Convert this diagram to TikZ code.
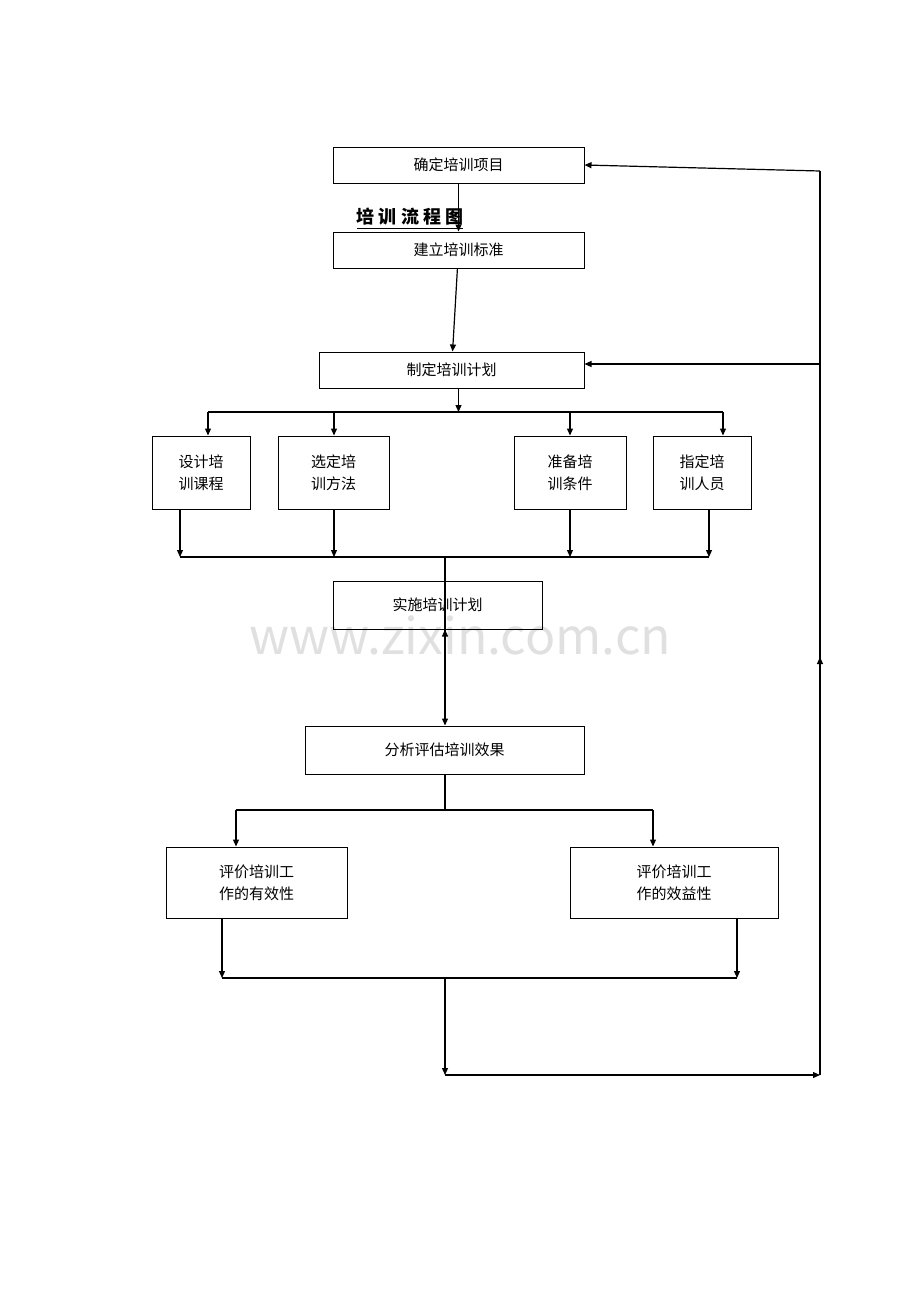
\documentclass[tikz,border=0pt]{standalone}
\usepackage{fontspec}
\setmainfont{Noto Sans CJK SC}
\usepackage{tikz}
\usetikzlibrary{arrows.meta,positioning,calc}
\tikzset{
  box/.style={draw, line width=0.5pt, inner sep=0pt, font=\fontsize{7.5}{11}\selectfont, align=center},
  link/.style={line width=0.6pt},
  arr/.style={link, -{Triangle[length=3.5pt,width=3pt]}}
}
\begin{document}
\begin{tikzpicture}[x=0.5pt,y=-0.5pt]
    \useasboundingbox (0,0) rectangle (920,1302);
    % watermark
    \node[text=black!12, font=\fontsize{25}{25}\selectfont] (wm) at (460,635) {www.zixin.com.cn};
    % top chain
    \node[box, minimum width=125.5pt, minimum height=18pt] (item) at (458.5,165) {确定培训项目};
    \node[box, minimum width=125.5pt, minimum height=18pt] (std) at (458.5,250) {建立培训标准};
    \node[box, minimum width=132.5pt, minimum height=18pt] (plan) at (451.5,370) {制定培训计划};
    \node[font=\bfseries\fontsize{9}{9}\selectfont] (title) at (410,219) {\underline{培\ 训\ 流\ 程\ 图}};
    \draw[arr] (item) -- (std);
    \draw[arr] (std) -- (plan);
    % four sub tasks
    \node[box, minimum width=49pt, minimum height=36.5pt] (d1) at (201,472.5) {设计培\\训课程};
    \node[box, minimum width=55.5pt, minimum height=36.5pt] (d2) at (333.5,472.5) {选定培\\训方法};
    \node[box, minimum width=56pt, minimum height=36.5pt] (d3) at (570,472.5) {准备培\\训条件};
    \node[box, minimum width=49pt, minimum height=36.5pt] (d4) at (702,472.5) {指定培\\训人员};
    \coordinate (split) at (458.5,412);
    \draw[arr] (plan.south -| split) -- (split);
    \draw[link] (208,412) -- (723,412);
    \foreach \n/\x in {d1/208,d2/334,d3/570,d4/723}
        \draw[arr] (\x,412) -- (\n.north -| \x,0);
    \foreach \n/\x in {d1/180,d2/334,d3/570,d4/709}
        \draw[arr] (\n.south -| \x,0) -- (\x,557);
    \draw[link] (180,557) -- (709,557);
    % run and evaluate
    \node[box, minimum width=104.5pt, minimum height=24pt] (run) at (437.5,605) {实施培训计划};
    \node[box, minimum width=139.5pt, minimum height=24pt] (eval) at (444.5,750) {分析评估培训效果};
    \draw[arr] (445,557) -- (run.south -| 445,0) ++(0,0);
    \draw[arr] (run.south -| 445,0) -- (eval.north -| 445,0);
    \node[box, minimum width=90.5pt, minimum height=35.5pt] (g1) at (256.5,882.5) {评价培训工\\作的有效性};
    \node[box, minimum width=104pt, minimum height=35.5pt] (g2) at (674,882.5) {评价培训工\\作的效益性};
    \draw[link] (eval.south -| 445,0) -- (445,810);
    \draw[link] (236,810) -- (653,810);
    \draw[arr] (236,810) -- (g1.north -| 236,0);
    \draw[arr] (653,810) -- (g2.north -| 653,0);
    \draw[arr] (g1.south -| 222,0) -- (222,978);
    \draw[arr] (g2.south -| 737,0) -- (737,978);
    \draw[link] (222,978) -- (737,978);
    % feedback loop
    \coordinate (fb) at (820,1075);
    \draw[arr] (445,978) -- (445,1075);
    \draw[arr] (445,1075) -- (fb);
    \draw[link] (fb) -- (820,171);
    \draw[arr] (820,1075) -- (820,657);
    \draw[arr] (820,171) -- (item.east);
    \draw[arr] (820,364) -- (plan.east |- 0,364);
\end{tikzpicture}
\end{document}
